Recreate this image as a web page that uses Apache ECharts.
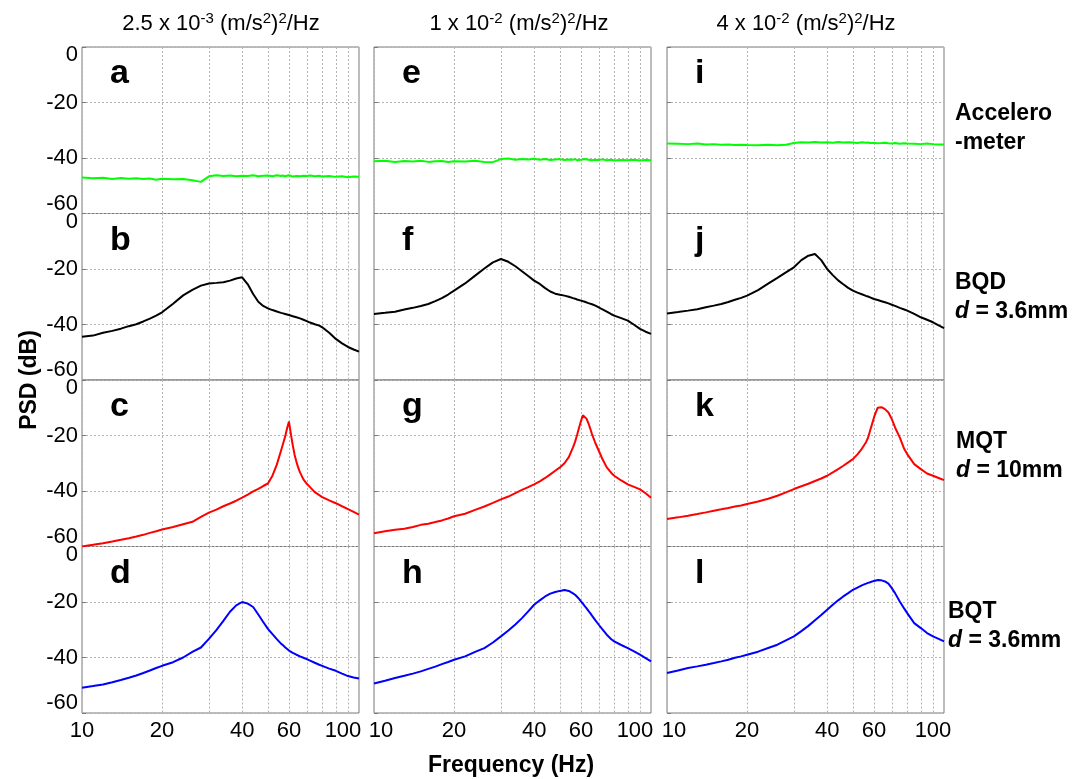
<!DOCTYPE html>
<html>
<head>
<meta charset="utf-8">
<script src="https://cdn.jsdelivr.net/npm/echarts@6/dist/echarts.min.js"></script>
<style>
html,body{margin:0;padding:0;background:#fff;}
#chart{width:1072px;height:779px;}
</style>
</head>
<body>
<div id="chart"></div>
<script>
// ---------- data ----------
const FREQ = [10,11,12,13,14,15,16,17,18,19,20,22,24,26,28,30,32,34,36,38,40,42,44,46,48,50,52,54,56,57,58,59,60,61,62,63,64,65,66,68,70,72,75,78,80,85,90,95,100,105,110];

const X_GRID_TICKS = [10,20,30,40,50,60,70,80,90,100];
const X_LABEL_TICKS = [10,20,40,60,100];
const Y_TICKS = [-60,-40,-20,0];

// Accelerometer
const psdA = [-47.0,-47.3,-47.1,-47.6,-47.2,-47.5,-47.3,-47.6,-47.4,-47.8,-47.5,-47.7,-47.6,-48.0,-48.6,-46.6,-46.2,-46.5,-46.3,-46.6,-46.4,-46.5,-46.2,-46.6,-46.4,-46.3,-46.6,-46.2,-46.5,-46.3,-46.6,-46.4,-46.2,-46.5,-46.7,-46.3,-46.5,-46.2,-46.6,-46.4,-46.5,-46.3,-46.6,-46.4,-46.7,-46.5,-46.8,-46.6,-46.9,-46.7,-46.8];
const psdE = [-41.2,-41.0,-41.4,-41.1,-41.3,-41.0,-41.4,-41.2,-41.1,-41.4,-41.2,-41.3,-41.0,-41.4,-41.5,-40.4,-40.2,-40.6,-40.4,-40.5,-40.3,-40.6,-40.4,-40.7,-40.5,-40.4,-40.7,-40.5,-40.6,-40.4,-40.8,-40.5,-40.6,-40.7,-40.4,-40.8,-40.6,-40.5,-40.8,-40.6,-40.7,-40.5,-40.8,-40.6,-40.9,-40.7,-40.8,-40.6,-40.9,-40.7,-40.8];
const psdI = [-34.8,-34.9,-35.0,-34.8,-35.1,-35.0,-35.2,-35.1,-35.3,-35.2,-35.3,-35.4,-35.2,-35.4,-35.2,-34.6,-34.3,-34.4,-34.2,-34.4,-34.3,-34.5,-34.2,-34.4,-34.3,-34.4,-34.6,-34.3,-34.5,-34.4,-34.6,-34.5,-34.6,-34.4,-34.7,-34.5,-34.6,-34.8,-34.5,-34.7,-34.8,-34.6,-34.9,-34.7,-34.8,-34.9,-35.0,-34.8,-35.0,-35.1,-35.1];
// BQD d = 3.6mm
const psdB = [-44.4,-44.0,-43.0,-42.3,-41.5,-40.6,-39.9,-38.9,-37.9,-36.8,-35.6,-32.5,-29.5,-27.5,-26.0,-25.2,-25.0,-24.8,-24.2,-23.4,-23.0,-25.5,-29.0,-31.8,-33.3,-34.2,-34.8,-35.3,-35.8,-36.0,-36.2,-36.4,-36.6,-36.8,-37.0,-37.2,-37.4,-37.6,-37.8,-38.3,-38.8,-39.3,-39.9,-40.4,-41.0,-43.0,-45.2,-46.8,-48.1,-49.0,-49.8];
const psdF = [-36.2,-35.8,-35.4,-34.6,-34.0,-33.3,-32.6,-31.6,-30.5,-29.2,-27.8,-25.2,-22.4,-19.8,-17.6,-16.4,-17.4,-19.0,-20.8,-22.5,-24.2,-25.4,-26.9,-28.1,-28.9,-29.3,-29.6,-30.0,-30.5,-30.7,-31.0,-31.2,-31.4,-31.6,-31.8,-32.0,-32.3,-32.5,-32.7,-33.2,-33.8,-34.5,-35.4,-36.3,-36.8,-37.7,-38.6,-40.1,-41.6,-42.6,-43.4];
const psdJ = [-36.0,-35.5,-35.0,-34.5,-33.8,-33.2,-32.6,-31.9,-31.1,-30.4,-29.6,-27.6,-25.3,-23.2,-21.2,-19.4,-16.8,-15.2,-14.6,-16.8,-20.0,-22.2,-24.1,-25.5,-26.8,-27.8,-28.5,-29.1,-29.7,-29.9,-30.2,-30.5,-30.8,-31.0,-31.2,-31.4,-31.6,-31.8,-32.0,-32.4,-32.9,-33.3,-34.0,-34.6,-35.0,-36.2,-37.4,-38.3,-39.2,-40.3,-41.3];
// MQT d = 10mm
const psdC = [-60.0,-59.4,-58.8,-58.2,-57.6,-57.0,-56.4,-55.8,-55.1,-54.5,-53.9,-53.0,-52.0,-51.1,-49.3,-47.8,-46.7,-45.5,-44.5,-43.5,-42.4,-41.3,-40.1,-39.2,-38.2,-37.3,-34.5,-30.5,-25.5,-23.0,-20.5,-17.5,-15.0,-19.5,-23.5,-27.0,-29.5,-31.6,-33.3,-35.8,-37.4,-38.6,-40.4,-41.5,-42.2,-43.4,-44.4,-45.5,-46.5,-47.5,-48.5];
const psdG = [-55.2,-54.5,-54.0,-53.6,-53.0,-52.2,-51.8,-51.2,-50.6,-49.9,-49.1,-48.2,-46.8,-45.6,-44.3,-43.0,-42.0,-40.8,-39.6,-38.6,-37.6,-36.5,-35.3,-34.0,-32.7,-31.5,-30.0,-27.8,-24.3,-22.3,-19.8,-17.2,-14.8,-12.7,-13.0,-14.0,-15.6,-17.5,-19.5,-22.8,-25.5,-28.2,-31.5,-33.5,-34.5,-36.2,-37.6,-38.5,-39.4,-40.8,-42.4];
const psdK = [-50.1,-49.5,-48.9,-48.3,-47.7,-47.1,-46.6,-46.1,-45.6,-45.2,-44.7,-43.8,-42.8,-41.7,-40.5,-39.3,-38.3,-37.4,-36.4,-35.5,-34.5,-33.3,-32.1,-30.9,-29.7,-28.5,-26.8,-24.8,-22.4,-20.8,-18.3,-15.9,-13.5,-11.6,-10.0,-9.7,-9.8,-10.0,-10.5,-11.7,-14.1,-17.1,-20.7,-24.9,-26.7,-30.3,-32.1,-33.7,-34.5,-35.3,-36.1];
// BQT d = 3.6mm
const psdD = [-50.9,-50.3,-49.7,-48.9,-48.1,-47.3,-46.5,-45.6,-44.7,-43.8,-43.0,-41.7,-40.0,-38.0,-36.4,-33.3,-30.1,-26.8,-23.5,-21.2,-20.0,-20.6,-21.8,-24.5,-27.2,-29.7,-31.6,-33.4,-35.0,-35.6,-36.3,-36.9,-37.5,-37.9,-38.3,-38.7,-39.0,-39.3,-39.6,-40.1,-40.6,-41.1,-41.9,-42.6,-43.0,-44.0,-44.8,-45.8,-46.7,-47.2,-47.6];
const psdH = [-49.4,-48.4,-47.4,-46.6,-45.8,-45.0,-44.1,-43.3,-42.4,-41.6,-40.8,-39.6,-38.0,-36.6,-34.6,-32.4,-30.3,-28.1,-25.8,-23.4,-21.0,-19.4,-18.0,-17.0,-16.4,-16.0,-15.7,-16.0,-16.9,-17.4,-18.1,-18.9,-19.8,-20.6,-21.5,-22.3,-23.2,-24.0,-24.9,-26.6,-28.2,-29.7,-31.8,-33.4,-34.2,-35.5,-36.6,-37.8,-39.0,-40.2,-41.4];
const psdL = [-45.6,-44.7,-43.8,-43.2,-42.6,-42.0,-41.4,-40.8,-40.1,-39.6,-39.0,-37.9,-36.6,-35.4,-33.8,-32.4,-30.5,-28.6,-26.6,-24.7,-22.8,-21.0,-19.4,-18.0,-16.8,-15.6,-14.8,-14.0,-13.4,-13.1,-12.9,-12.6,-12.4,-12.2,-12.1,-12.1,-12.2,-12.4,-12.6,-13.4,-15.0,-16.8,-19.8,-22.4,-24.0,-27.6,-29.4,-31.2,-32.4,-33.3,-34.2];

const PANEL_SERIES = [
  [psdA, psdE, psdI],
  [psdB, psdF, psdJ],
  [psdC, psdG, psdK],
  [psdD, psdH, psdL]
];
const PANEL_LETTERS = [['a','e','i'],['b','f','j'],['c','g','k'],['d','h','l']];
const ROW_COLORS = ['#00ff00', '#000000', '#ff0000', '#0000ff'];
const COL_TITLES = [
  '{n|2.5 x 10}{s|-3}{n| (m/s}{s|2}{n|)}{s|2}{n|/Hz}',
  '{n|1 x 10}{s|-2}{n| (m/s}{s|2}{n|)}{s|2}{n|/Hz}',
  '{n|4 x 10}{s|-2}{n| (m/s}{s|2}{n|)}{s|2}{n|/Hz}'
];
const ROW_LABELS = [
  '{b|Accelero}\n{b|-meter}',
  '{b|BQD}\n{i|d}{b| = 3.6mm}',
  '{b|MQT}\n{i|d}{b| = 10mm}',
  '{b|BQT}\n{i|d}{b| = 3.6mm}'
];

// ---------- layout ----------
const FONT = 'Liberation Sans, Arial, Helvetica, sans-serif';
const COL_LEFT = [82, 374, 667];
const COL_W = 277;
const ROW_TOP = [47, 213.5, 380, 546.5];
const ROW_H = 166.5;
const TITLE_X = [221, 519, 806];
const ROW_LABEL_POS = [[955, 128], [955, 297], [956, 456], [948, 626]];
const TICK_FS = 22;

const grids = [], xAxes = [], yAxes = [], series = [], graphics = [];
const gridLine = { color: '#b4b4b4', type: [2, 2], width: 1 };
const lab = { fontSize: TICK_FS, fontFamily: FONT, color: '#000' };

for (let r = 0; r < 4; r++) {
  for (let c = 0; c < 3; c++) {
    const g = r * 3 + c;
    grids.push({
      left: COL_LEFT[c], top: ROW_TOP[r], width: COL_W, height: ROW_H,
      show: true, borderColor: '#7a7a7a', borderWidth: 1, backgroundColor: 'transparent'
    });
    const col = c;
    xAxes.push({
      gridIndex: g, type: 'log', logBase: 10, min: 10, max: 110,
      axisLine: { show: false },
      axisTick: { show: false, customValues: X_GRID_TICKS },
      axisLabel: {
        show: r === 3, customValues: X_LABEL_TICKS, color: '#000',
        fontFamily: FONT, fontSize: TICK_FS, margin: 7, hideOverlap: false,
        formatter: v => {
          if (v === 100 && col < 2) return '{l|100}';
          if (v === 10 && col > 0) return '{r|10}';
          return '{n|' + v + '}';
        },
        rich: {
          n: lab,
          l: Object.assign({ padding: [0, 10, 0, 0] }, lab),
          r: Object.assign({ padding: [0, 0, 0, 14] }, lab)
        }
      },
      splitLine: { show: true, lineStyle: gridLine }
    });
    yAxes.push({
      gridIndex: g, type: 'value', min: -60, max: 0, interval: 20,
      axisLine: { show: false },
      axisTick: { show: true, inside: true, length: 4, lineStyle: { color: '#7a7a7a' } },
      axisLabel: {
        show: c === 0, color: '#000', fontFamily: FONT, fontSize: TICK_FS, margin: 4,
        formatter: v => v === 0 ? '{t|0}' : (v === -60 ? '{b|-60}' : '{n|' + v + '}'),
        rich: {
          t: Object.assign({ padding: [16, 0, 0, 0] }, lab),
          b: Object.assign({ padding: [0, 0, 20, 0] }, lab),
          n: lab
        }
      },
      splitLine: { show: true, lineStyle: gridLine }
    });
    const vals = PANEL_SERIES[r][c];
    series.push({
      type: 'line', xAxisIndex: g, yAxisIndex: g,
      data: FREQ.map((f, i) => [f, vals[i]]),
      showSymbol: false, symbol: 'none', silent: true,
      lineStyle: { color: ROW_COLORS[r], width: 2 },
      clip: true, z: 3
    });
    graphics.push({
      type: 'text', left: COL_LEFT[c] + 28, top: ROW_TOP[r] + 10, silent: true,
      style: { text: PANEL_LETTERS[r][c], font: 'bold 34px ' + FONT, fill: '#000' }
    });
  }
}

for (let c = 0; c < 3; c++) {
  graphics.push({
    type: 'text', x: TITLE_X[c], y: 11, silent: true,
    style: {
      text: COL_TITLES[c], align: 'center', verticalAlign: 'top',
      rich: {
        n: { fontSize: 22, fontFamily: FONT, fill: '#000', lineHeight: 26 },
        s: { fontSize: 15, fontFamily: FONT, fill: '#000', verticalAlign: 'top', lineHeight: 26 }
      }
    }
  });
}
for (let r = 0; r < 4; r++) {
  graphics.push({
    type: 'text', x: ROW_LABEL_POS[r][0], y: ROW_LABEL_POS[r][1], silent: true,
    style: {
      text: ROW_LABELS[r], align: 'left', verticalAlign: 'middle',
      rich: {
        b: { fontSize: 23, fontWeight: 'bold', fontFamily: FONT, fill: '#000', lineHeight: 29 },
        i: { fontSize: 23, fontWeight: 'bold', fontStyle: 'italic', fontFamily: FONT, fill: '#000', lineHeight: 29 }
      }
    }
  });
}
graphics.push({
  type: 'text', x: 30, y: 380, rotation: Math.PI / 2, silent: true,
  style: { text: 'PSD (dB)', align: 'center', verticalAlign: 'middle', font: 'bold 23px ' + FONT, fill: '#000' }
});
graphics.push({
  type: 'text', x: 511, y: 766, silent: true,
  style: { text: 'Frequency (Hz)', align: 'center', verticalAlign: 'middle', font: 'bold 23px ' + FONT, fill: '#000' }
});

const chart = echarts.init(document.getElementById('chart'), null, { renderer: 'canvas' });
chart.setOption({
  animation: false,
  backgroundColor: '#ffffff',
  textStyle: { fontFamily: FONT },
  grid: grids,
  xAxis: xAxes,
  yAxis: yAxes,
  series: series,
  graphic: graphics
});
</script>
</body>
</html>
